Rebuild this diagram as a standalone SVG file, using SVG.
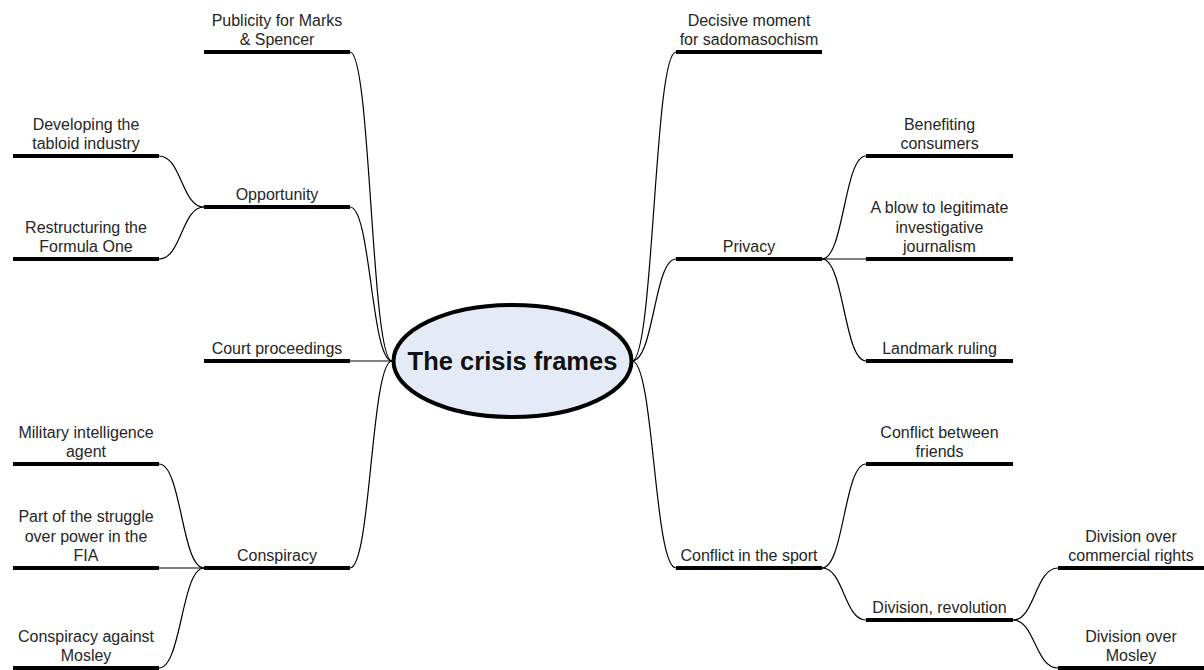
<svg xmlns="http://www.w3.org/2000/svg" width="1204" height="670" viewBox="0 0 1204 670">
<style>
.bar{stroke:#000;stroke-width:4;fill:none}
.lbl{font-family:"Liberation Sans",Arial,sans-serif;font-size:16px;fill:#262626;text-anchor:middle}
.con{stroke:#000;stroke-width:1.2;fill:none}
.title{font-family:"Liberation Sans",Arial,sans-serif;font-size:25.5px;font-weight:bold;fill:#111;text-anchor:middle}
</style>
<rect width="1204" height="670" fill="#fff"/>
<g id="connectors">
<path class="con" d="M350,52 C371,52 371,361 392,361"/>
<path class="con" d="M350,207 C371,207 371,361 392,361"/>
<path class="con" d="M350,361 L392,361"/>
<path class="con" d="M350,568 C371,568 371,361 392,361"/>
<path class="con" d="M159,156 C181.5,156 181.5,207 204,207"/>
<path class="con" d="M159,259 C181.5,259 181.5,207 204,207"/>
<path class="con" d="M159,464 C181.5,464 181.5,568 204,568"/>
<path class="con" d="M159,568 L204,568"/>
<path class="con" d="M159,668 C181.5,668 181.5,568 204,568"/>
<path class="con" d="M632,361 C654,361 654,52 676,52"/>
<path class="con" d="M632,361 C654,361 654,259 676,259"/>
<path class="con" d="M632,361 C654,361 654,568 676,568"/>
<path class="con" d="M822,259 C844,259 844,156 866,156"/>
<path class="con" d="M822,259 L866,259"/>
<path class="con" d="M822,259 C844,259 844,361 866,361"/>
<path class="con" d="M822,568 C844,568 844,464 866,464"/>
<path class="con" d="M822,568 C844,568 844,620 866,620"/>
<path class="con" d="M1013,620 C1035,620 1035,568 1058,568"/>
<path class="con" d="M1013,620 C1035,620 1035,668 1058,668"/>
</g>
<g id="center">
<ellipse cx="512.5" cy="361" rx="119" ry="56" fill="#e4ebf7" stroke="#000" stroke-width="4"/>
<text class="title" x="512.5" y="370">The crisis frames</text>
</g>
<g id="publicity"><line class="bar" x1="204" y1="52" x2="350" y2="52"/><text class="lbl" x="277" y="25.5">Publicity for Marks</text><text class="lbl" x="277" y="45">&amp; Spencer</text></g>
<g id="opportunity"><line class="bar" x1="204" y1="207" x2="350" y2="207"/><text class="lbl" x="277" y="200">Opportunity</text></g>
<g id="court"><line class="bar" x1="204" y1="361" x2="350" y2="361"/><text class="lbl" x="277" y="354">Court proceedings</text></g>
<g id="conspiracy"><line class="bar" x1="204" y1="568" x2="350" y2="568"/><text class="lbl" x="277" y="561">Conspiracy</text></g>
<g id="developing"><line class="bar" x1="13" y1="156" x2="159" y2="156"/><text class="lbl" x="86" y="129.5">Developing the</text><text class="lbl" x="86" y="149">tabloid industry</text></g>
<g id="restructuring"><line class="bar" x1="13" y1="259" x2="159" y2="259"/><text class="lbl" x="86" y="232.5">Restructuring the</text><text class="lbl" x="86" y="252">Formula One</text></g>
<g id="military"><line class="bar" x1="13" y1="464" x2="159" y2="464"/><text class="lbl" x="86" y="437.5">Military intelligence</text><text class="lbl" x="86" y="457">agent</text></g>
<g id="struggle"><line class="bar" x1="13" y1="568" x2="159" y2="568"/><text class="lbl" x="86" y="522">Part of the struggle</text><text class="lbl" x="86" y="541.5">over power in the</text><text class="lbl" x="86" y="561">FIA</text></g>
<g id="against"><line class="bar" x1="13" y1="668" x2="159" y2="668"/><text class="lbl" x="86" y="641.5">Conspiracy against</text><text class="lbl" x="86" y="661">Mosley</text></g>
<g id="decisive"><line class="bar" x1="676" y1="52" x2="822" y2="52"/><text class="lbl" x="749" y="25.5">Decisive moment</text><text class="lbl" x="749" y="45">for sadomasochism</text></g>
<g id="privacy"><line class="bar" x1="676" y1="259" x2="822" y2="259"/><text class="lbl" x="749" y="252">Privacy</text></g>
<g id="sport"><line class="bar" x1="676" y1="568" x2="822" y2="568"/><text class="lbl" x="749" y="561">Conflict in the sport</text></g>
<g id="benefiting"><line class="bar" x1="866" y1="156" x2="1013" y2="156"/><text class="lbl" x="939.5" y="129.5">Benefiting</text><text class="lbl" x="939.5" y="149">consumers</text></g>
<g id="blow"><line class="bar" x1="866" y1="259" x2="1013" y2="259"/><text class="lbl" x="939.5" y="213">A blow to legitimate</text><text class="lbl" x="939.5" y="232.5">investigative</text><text class="lbl" x="939.5" y="252">journalism</text></g>
<g id="landmark"><line class="bar" x1="866" y1="361" x2="1013" y2="361"/><text class="lbl" x="939.5" y="354">Landmark ruling</text></g>
<g id="friends"><line class="bar" x1="866" y1="464" x2="1013" y2="464"/><text class="lbl" x="939.5" y="437.5">Conflict between</text><text class="lbl" x="939.5" y="457">friends</text></g>
<g id="division"><line class="bar" x1="866" y1="620" x2="1013" y2="620"/><text class="lbl" x="939.5" y="613">Division, revolution</text></g>
<g id="commercial"><line class="bar" x1="1058" y1="568" x2="1204" y2="568"/><text class="lbl" x="1131" y="541.5">Division over</text><text class="lbl" x="1131" y="561">commercial rights</text></g>
<g id="mosley"><line class="bar" x1="1058" y1="668" x2="1204" y2="668"/><text class="lbl" x="1131" y="641.5">Division over</text><text class="lbl" x="1131" y="661">Mosley</text></g>
</svg>
